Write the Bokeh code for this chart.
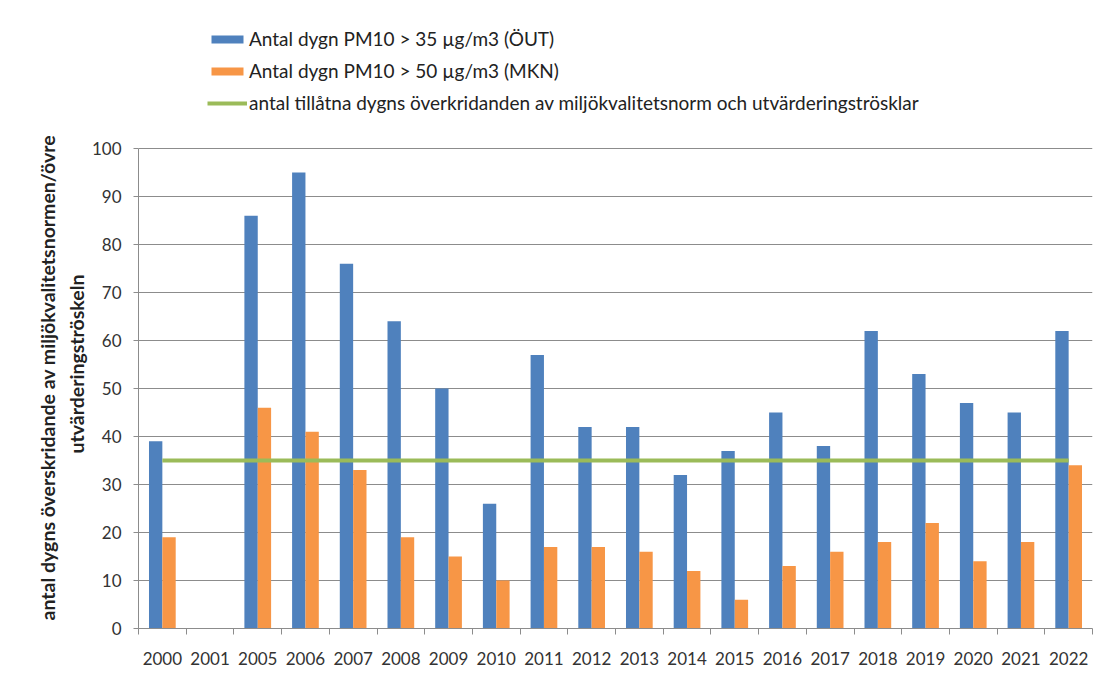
import numpy as np
from bokeh.plotting import figure
from bokeh.models import (ColumnDataSource, Range1d, FixedTicker, Legend, LegendItem, Title)
from bokeh.transform import dodge
from bokeh.embed import file_html
from bokeh.resources import INLINE

years = ["2000", "2001", "2005", "2006", "2007", "2008", "2009", "2010", "2011", "2012",
         "2013", "2014", "2015", "2016", "2017", "2018", "2019", "2020", "2021", "2022"]
days_over_35 = [39, np.nan, 86, 95, 76, 64, 50, 26, 57, 42,
                42, 32, 37, 45, 38, 62, 53, 47, 45, 62]
days_over_50 = [19, np.nan, 46, 41, 33, 19, 15, 10, 17, 17,
                16, 12, 6, 13, 16, 18, 22, 14, 18, 34]
allowed_days = 35
y_ticks = list(range(0, 101, 10))

series_labels = ["Antal dygn PM10 > 35 µg/m3 (ÖUT)",
                 "Antal dygn PM10 > 50 µg/m3 (MKN)",
                 "antal tillåtna dygns överkridanden av miljökvalitetsnorm och utvärderingströsklar"]
y_title_lines = ["antal dygns överskridande av miljökvalitetsnormen/övre",
                 "utvärderingströskeln"]

n = len(years)
pos = [i + 0.5 for i in range(n)]
src = ColumnDataSource(dict(x=pos, blue=days_over_35, orange=days_over_50,
                            thr=[allowed_days] * n))

FONT = "Lato"
GRID = "#8c8c8c"

p = figure(width=1097, height=667, output_backend="svg", toolbar_location=None,
           x_range=Range1d(0, n), y_range=Range1d(0, 130),
           min_border_left=138, min_border_right=5, min_border_top=4, min_border_bottom=39)
p.outline_line_color = None
p.background_fill_color = "white"

r1 = p.vbar(x=dodge("x", -0.14, range=p.x_range), top="blue", width=0.28, source=src,
            fill_color="#4F81BD", line_color=None)
r2 = p.vbar(x=dodge("x", 0.14, range=p.x_range), top="orange", width=0.28, source=src,
            fill_color="#F79646", line_color=None)
r3 = p.line(x="x", y="thr", source=src, line_color="#9BBB59", line_width=4)

# x axis: labels at centers, ticks at boundaries
xa = p.xaxis[0]
xa.ticker = FixedTicker(ticks=pos, minor_ticks=list(range(n + 1)))
xa.major_label_overrides = {pv: y for pv, y in zip(pos, years)}
xa.major_tick_out = 0
xa.major_tick_in = 0
xa.minor_tick_out = 6
xa.minor_tick_in = 0
xa.minor_tick_line_color = GRID
xa.axis_line_color = GRID
xa.major_label_text_font = FONT
xa.major_label_text_font_size = "17px"
xa.major_label_text_color = "#333333"
xa.major_label_standoff = 17

ya = p.yaxis[0]
ya.ticker = FixedTicker(ticks=y_ticks)
ya.bounds = (y_ticks[0], y_ticks[-1])
ya.major_tick_out = 5
ya.major_tick_in = 0
ya.minor_tick_out = 0
ya.minor_tick_in = 0
ya.major_tick_line_color = GRID
ya.axis_line_color = GRID
ya.major_label_text_font = FONT
ya.major_label_text_font_size = "17px"
ya.major_label_text_color = "#333333"
ya.major_label_standoff = 12

# two-line y title, centred on the 0-100 part of the axis
title_offsets = [8, 175]
title_standoffs = [5, 2]
for line, off, so in reversed(list(zip(y_title_lines, title_offsets, title_standoffs))):
    t = Title(text=line, align="left", offset=off, standoff=so,
              text_font=FONT, text_font_style="bold", text_font_size="19.5px",
              text_color="#222222")
    p.add_layout(t, "left")

p.xgrid.visible = False
p.ygrid.ticker = FixedTicker(ticks=y_ticks)
p.ygrid.bounds = (y_ticks[0], y_ticks[-1])
p.ygrid.grid_line_color = GRID

legend = Legend(items=[LegendItem(label=series_labels[0], renderers=[r1]),
                       LegendItem(label=series_labels[1], renderers=[r2]),
                       LegendItem(label=series_labels[2], renderers=[r3])],
                location=(69, 514), orientation="vertical",
                glyph_width=40, glyph_height=10, label_height=20, spacing=9,
                label_standoff=2, padding=0, margin=0,
                border_line_color=None, background_fill_alpha=0,
                label_text_font=FONT, label_text_font_size="19px", label_text_color="#222222")
p.add_layout(legend, "center")

open("out.html", "w").write(file_html(p, INLINE))
